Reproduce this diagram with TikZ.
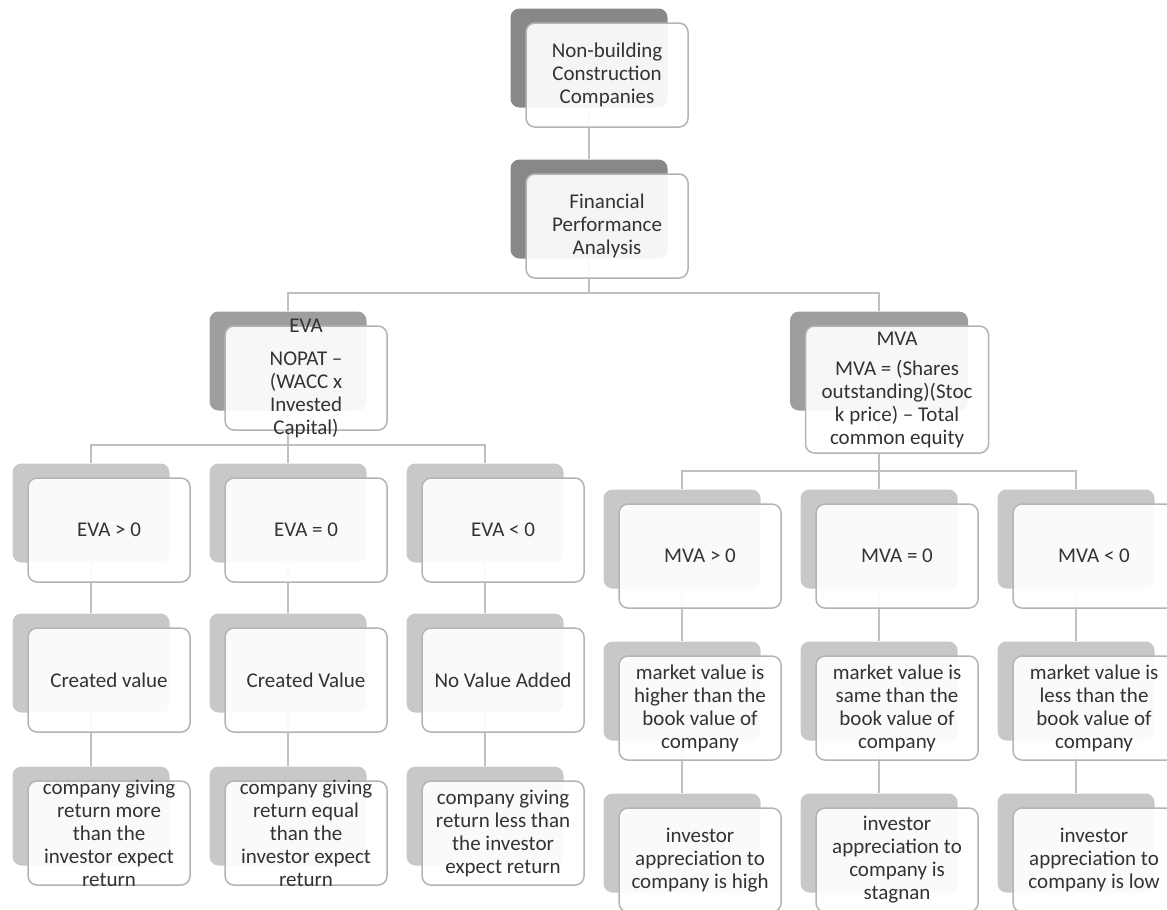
\documentclass[tikz,border=0pt]{standalone}
\usepackage{fontspec}
\setmainfont{Carlito}
\usetikzlibrary{backgrounds,calc}
\definecolor{backdark}{HTML}{888888}
\definecolor{backmid}{HTML}{9E9E9E}
\definecolor{backlight}{HTML}{C8C8C8}
\definecolor{edgegray}{HTML}{B4B4B4}
\definecolor{linkgray}{HTML}{C0C0C0}
\definecolor{txtgray}{HTML}{333333}
\tikzstyle{back} = [rectangle, rounded corners=9pt, minimum width=157pt, minimum height=99pt, inner sep=0pt]
\tikzstyle{front} = [rectangle, rounded corners=9pt, draw=edgegray, line width=1.5pt, fill=white, fill opacity=0.92, minimum width=162pt, minimum height=104pt, anchor=north west, inner sep=0pt]
\tikzstyle{words} = [align=center, inner sep=0pt, text=txtgray, font=\fontsize{21}{23}\selectfont]
\tikzstyle{link} = [draw=linkgray, line width=2pt]
% name, centre of back box, back options, front options, text
\newcommand{\chartbox}[5]{%
  \node[back, #3] (#1) at (#2) {};
  \node[front, #4] (#1f) at ([shift={(15,14)}]#1.north west) {};
  \node[words] (#1t) at (#1f.center) {#5};
}
\begin{document}
\begin{tikzpicture}[x=1pt, y=-1pt]
   \useasboundingbox (0,0) rectangle (1167,910);
   \clip (0,0) rectangle (1167,910);
   % nodes
   \chartbox{nbc}{589,58}{fill=backdark}{}{Non-building\\Construction\\Companies}
   \chartbox{fpa}{589,209}{fill=backdark}{}{Financial\\Performance\\Analysis}
   \chartbox{eva}{288,361}{fill=backmid}{}{EVA\\[10pt]NOPAT –\\(WACC x\\Invested\\Capital)}
   \chartbox{mva}{879,361}{fill=backmid, minimum width=178pt}{minimum width=183pt, minimum height=127pt}{MVA\\[7pt]MVA = (Shares\\outstanding)(Stoc\\k price) – Total\\common equity}

   \chartbox{e1}{91,513}{fill=backlight}{}{EVA > 0}
   \chartbox{e2}{288,513}{fill=backlight}{}{EVA = 0}
   \chartbox{e3}{485,513}{fill=backlight}{}{EVA < 0}
   \chartbox{m1}{682,539}{fill=backlight}{}{MVA > 0}
   \chartbox{m2}{879,539}{fill=backlight}{}{MVA = 0}
   \chartbox{m3}{1076,539}{fill=backlight}{}{MVA < 0}

   \chartbox{cv1}{91,663}{fill=backlight}{}{Created value}
   \chartbox{cv2}{288,663}{fill=backlight}{}{Created Value}
   \chartbox{nva}{485,663}{fill=backlight}{}{No Value Added}
   \chartbox{mk1}{682,691}{fill=backlight}{}{market value is\\higher than the\\book value of\\company}
   \chartbox{mk2}{879,691}{fill=backlight}{}{market value is\\same than the\\book value of\\company}
   \chartbox{mk3}{1076,691}{fill=backlight}{}{market value is\\less than the\\book value of\\company}

   \chartbox{r1}{91,816}{fill=backlight}{}{company giving\\return more\\than the\\investor expect\\return}
   \chartbox{r2}{288,816}{fill=backlight}{}{company giving\\return equal\\than the\\investor expect\\return}
   \chartbox{r3}{485,816}{fill=backlight}{}{company giving\\return less than\\the investor\\expect return}
   \chartbox{ia1}{682,843}{fill=backlight}{}{investor\\appreciation to\\company is high}
   \chartbox{ia2}{879,843}{fill=backlight}{}{investor\\appreciation to\\company is\\stagnan}
   \chartbox{ia3}{1076,843}{fill=backlight}{}{investor\\appreciation to\\company is low}

   \coordinate (busA) at (589,293);
   \coordinate (busE) at (288,445);
   \coordinate (busM) at (879,471);

   % edges
   \begin{pgfonlayer}{background}
	\draw[link] (nbc) -- (fpa);
	\draw[link] (fpa) -- (busA) -| (eva.north);
	\draw[link] (busA) -| (mva.north);
	\draw[link] (eva) -- (busE) -| (e1.north);
	\draw[link] (busE) -| (e3.north);
	\draw[link] (busE) -- (e2);
	\draw[link] (mva) -- (busM) -| (m1.north);
	\draw[link] (busM) -| (m3.north);
	\draw[link] (busM) -- (m2);
	\draw[link] (e1) -- (cv1);
	\draw[link] (e2) -- (cv2);
	\draw[link] (e3) -- (nva);
	\draw[link] (m1) -- (mk1);
	\draw[link] (m2) -- (mk2);
	\draw[link] (m3) -- (mk3);
	\draw[link] (cv1) -- (r1);
	\draw[link] (cv2) -- (r2);
	\draw[link] (nva) -- (r3);
	\draw[link] (mk1) -- (ia1);
	\draw[link] (mk2) -- (ia2);
	\draw[link] (mk3) -- (ia3);
   \end{pgfonlayer}
  \end{tikzpicture}
\end{document}
